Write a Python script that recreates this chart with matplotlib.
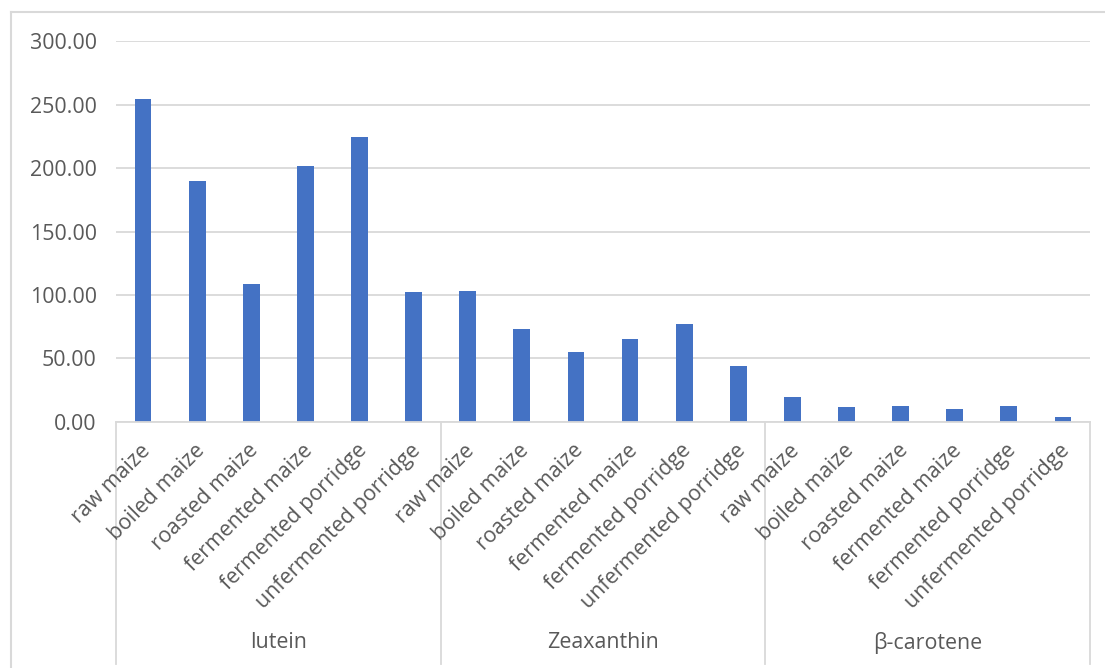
import matplotlib
matplotlib.use("Agg")
import matplotlib.pyplot as plt
from matplotlib.lines import Line2D
from matplotlib.ticker import FuncFormatter

# Carotenoid content by processing method
groups = ["lutein", "Zeaxanthin", "β-carotene"]
methods = ["raw maize", "boiled maize", "roasted maize", "fermented maize",
           "fermented porridge", "unfermented porridge"]
lutein = [254.3, 189.6, 108.4, 201.7, 224.3, 102.3]
zeaxanthin = [103.3, 72.9, 55.0, 65.0, 77.0, 43.9]
beta_carotene = [19.2, 11.6, 12.4, 10.0, 12.6, 3.4]
y_ticks = [0, 50, 100, 150, 200, 250, 300]

values = lutein + zeaxanthin + beta_carotene
labels = methods * len(groups)

BAR = "#4472C4"
GRID = "#D9D9D9"
TEXT = "#595959"
FS = 15.4
plt.rcParams["font.family"] = ["Open Sans", "DejaVu Sans"]

W, H = 1105, 668
fig = plt.figure(figsize=(W / 100, H / 100), dpi=100)
ax = fig.add_axes([116 / W, 1 - 421.7 / H, (1090 - 116) / W, (421.7 - 41.3) / H])

x = list(range(len(values)))
ax.bar(x, values, width=0.31, color=BAR, zorder=3)

ax.set_xlim(-0.5, len(values) - 0.5)
ax.set_ylim(0, 300)
ax.set_yticks(y_ticks)
ax.yaxis.set_major_formatter(FuncFormatter(lambda v, _: f"{v:.2f}"))
ax.tick_params(axis="y", length=0, pad=14, labelsize=FS, labelcolor=TEXT)
ax.set_xticks([])
ax.grid(axis="y", color=GRID, linewidth=1.3, zorder=0)
for side in ("left", "right", "top"):
    ax.spines[side].set_visible(False)
ax.spines["bottom"].set_color(GRID)
ax.spines["bottom"].set_linewidth(1.3)
ax.spines["bottom"].set_zorder(4)

# Rotated category labels under each bar
for i, lab in enumerate(labels):
    ax.annotate(lab, xy=(i, 0), xycoords=("data", "axes fraction"),
                xytext=(4, -26), textcoords="offset pixels",
                rotation=45, rotation_mode="anchor", ha="right", va="center",
                fontsize=FS, color=TEXT)

# Group separators and group names
n = len(methods)
sep_depth = (664 - 421.7) / (421.7 - 41.3)
for k in range(len(groups) + 1):
    bx = k * n - 0.5
    ax.add_line(Line2D([bx, bx], [0, -sep_depth],
                       transform=ax.get_xaxis_transform(), color=GRID,
                       linewidth=1.3, clip_on=False))
for k, g in enumerate(groups):
    cx = k * n + (n - 1) / 2
    ax.annotate(g, xy=(cx, 0), xycoords=("data", "axes fraction"),
                xytext=(0, -221), textcoords="offset pixels",
                ha="center", va="center", fontsize=FS, color=TEXT)

# Chart area border
fig.add_artist(Line2D([11 / W, 11 / W], [0, 1 - 12 / H], color=GRID, linewidth=1.5))
fig.add_artist(Line2D([11 / W, 1], [1 - 12 / H, 1 - 12 / H], color=GRID, linewidth=1.5))

fig.savefig("out.png", dpi=100, facecolor="white")
